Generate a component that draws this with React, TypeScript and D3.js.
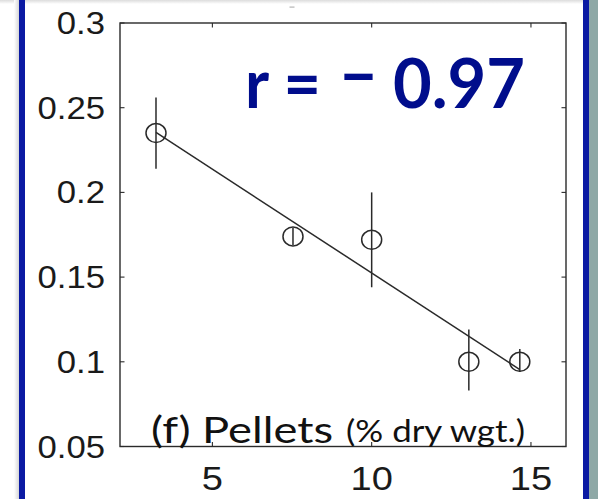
import React from "react";
import * as d3 from "d3";

// Pellet content (% dry weight) against the measured response, mean ± error
const pelletPct = [3.23, 7.53, 10.0, 13.05, 14.65];
const meanValue = [0.235, 0.174, 0.172, 0.1, 0.1];
const errLow = [0.214, 0.169, 0.144, 0.083, 0.094];
const errHigh = [0.256, 0.179, 0.2, 0.119, 0.1076];

const xTicks = [5, 10, 15];
const yTicks = [0.05, 0.1, 0.15, 0.2, 0.25, 0.3];
const xDomain = [2.1, 16.1];
const yDomain = [0.05, 0.3];

const W = 598;
const H = 499;
const INK = "#2a2a2a";
const BLUE = "#0b1aa3";
const TITLE_BLUE = "#000d8c";

function leastSquares(xs: number[], ys: number[]) {
  const mx = d3.mean(xs)!;
  const my = d3.mean(ys)!;
  let sxy = 0;
  let sxx = 0;
  xs.forEach((x, i) => {
    sxy += (x - mx) * (ys[i] - my);
    sxx += (x - mx) * (x - mx);
  });
  const slope = sxy / sxx;
  return (x: number) => my + slope * (x - mx);
}

export default function App() {
  const left = 120;
  const right = 566;
  const top = 23;
  const bottom = 446.5;

  const x = d3.scaleLinear().domain(xDomain).range([left, right]);
  const y = d3.scaleLinear().domain(yDomain).range([bottom, top]);

  const fit = leastSquares(pelletPct, meanValue);
  const [x0, x1] = d3.extent(pelletPct) as [number, number];
  const fitPath = d3.line<number>()
    .x((d) => x(d))
    .y((d) => y(fit(d)))([x0, x1]) as string;

  const tick = 4.5;
  const sx = 1.12;
  const bold = {
    fontFamily: "Lato, 'Open Sans', sans-serif",
    fontWeight: 700,
    fontSize: 69,
    fill: TITLE_BLUE,
  } as const;

  return (
    <svg
      width={W}
      height={H}
      viewBox={`0 0 ${W} ${H}`}
      style={{ position: "absolute", left: 0, top: 0, display: "block" }}
    >
      <defs>
        <linearGradient id="topShade" x1="0" y1="0" x2="0" y2="1">
          <stop offset="0" stopColor="#dcdcdc" />
          <stop offset="1" stopColor="#ffffff" />
        </linearGradient>
        <linearGradient id="leftShade" x1="0" y1="0" x2="1" y2="0">
          <stop offset="0" stopColor="#ffffff" />
          <stop offset="1" stopColor="#d6d6d6" />
        </linearGradient>
      </defs>

      {/* slide frame */}
      <rect x={0} y={0} width={W} height={H} fill="#ffffff" />
      <rect x={0} y={0} width={W} height={4} fill="url(#topShade)" />
      <rect x={14} y={0} width={5} height={H} fill="url(#leftShade)" />
      <rect x={19} y={0} width={6} height={H} fill={BLUE} />
      <rect x={583} y={0} width={6} height={H} fill={BLUE} />
      <rect x={589} y={0} width={9} height={H} fill="#8ea8a6" />
      <rect x={289.5} y={6.5} width={5} height={1.2} fill="#b5b5b5" />

      {/* axes box */}
      <rect
        x={left}
        y={top}
        width={right - left}
        height={bottom - top}
        fill="#ffffff"
        stroke={INK}
        strokeWidth={1.4}
      />

      {/* inward ticks on all four sides */}
      {xTicks.map((t) => (
        <g key={`xt${t}`} stroke={INK} strokeWidth={1.1}>
          <line x1={x(t)} x2={x(t)} y1={bottom} y2={bottom - tick} />
          <line x1={x(t)} x2={x(t)} y1={top} y2={top + tick} />
        </g>
      ))}
      {yTicks.map((t) => (
        <g key={`yt${t}`} stroke={INK} strokeWidth={1.1}>
          <line x1={left} x2={left + tick} y1={y(t)} y2={y(t)} />
          <line x1={right} x2={right - tick} y1={y(t)} y2={y(t)} />
        </g>
      ))}

      {/* tick labels */}
      {xTicks.map((t) => (
        <text
          key={`xl${t}`}
          transform={`translate(${x(t)},${489.5}) scale(${sx},1)`}
          textAnchor="middle"
          fontFamily="'Liberation Sans', Arial, sans-serif"
          fontSize={34}
          fill="#1a1a1a"
        >
          {t}
        </text>
      ))}
      {yTicks.map((t) => (
        <text
          key={`yl${t}`}
          transform={`translate(105,${y(t) + 11}) scale(${sx},1)`}
          textAnchor="end"
          fontFamily="'Liberation Sans', Arial, sans-serif"
          fontSize={31}
          fill="#1a1a1a"
        >
          {String(t)}
        </text>
      ))}

      {/* regression line */}
      <path d={fitPath} fill="none" stroke={INK} strokeWidth={1.5} />

      {/* error bars and markers */}
      {pelletPct.map((p, i) => (
        <g key={`pt${i}`} stroke={INK} strokeWidth={1.5} fill="none">
          <line x1={x(p)} x2={x(p)} y1={y(errLow[i])} y2={y(errHigh[i])} />
          <ellipse cx={x(p)} cy={y(meanValue[i])} rx={10} ry={9.5} />
        </g>
      ))}

      {/* correlation annotation */}
      <text x={245} y={108} {...bold} textLength={76} lengthAdjust="spacingAndGlyphs">
        r =
      </text>
      <text x={340} y={100} {...bold} textLength={37} lengthAdjust="spacingAndGlyphs">
        −
      </text>
      <text x={393} y={108} {...bold} textLength={132} lengthAdjust="spacingAndGlyphs">
        0.97
      </text>

      {/* panel label */}
      <text
        x={151}
        y={443}
        fontFamily="Lato, 'Open Sans', sans-serif"
        fontSize={37}
        fill="#111"
        textLength={182}
        lengthAdjust="spacingAndGlyphs"
      >
        (f) Pellets
      </text>
      <text
        x={346}
        y={442}
        fontFamily="Lato, 'Open Sans', sans-serif"
        fontSize={30}
        fill="#111"
        textLength={179}
        lengthAdjust="spacingAndGlyphs"
      >
        (% dry wgt.)
      </text>
    </svg>
  );
}
